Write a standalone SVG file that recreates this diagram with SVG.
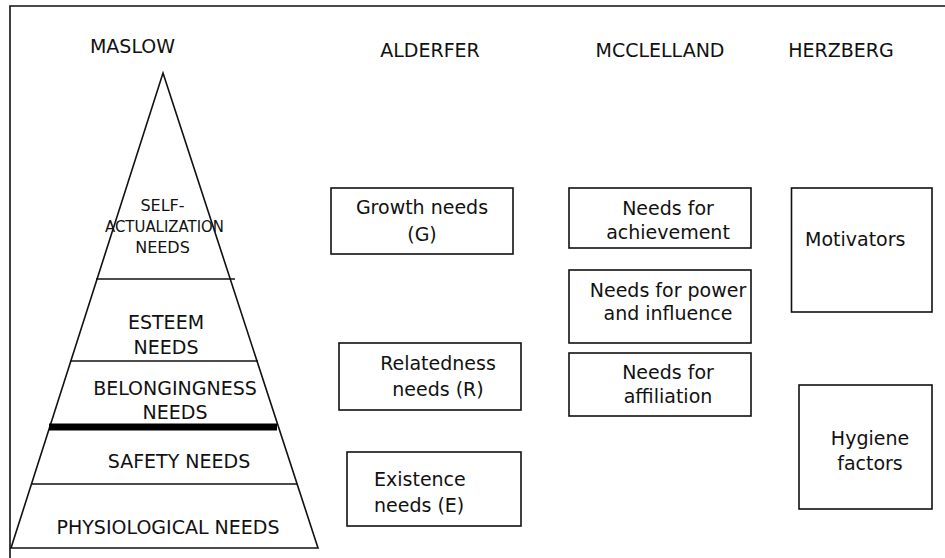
<svg xmlns="http://www.w3.org/2000/svg" width="945" height="558" viewBox="0 0 945 558">
<style>
text{font-family:"DejaVu Sans","Liberation Sans",sans-serif;font-size:19px;fill:#111;}
.c{text-anchor:middle;}
.box{fill:#fff;stroke:#111;stroke-width:1.6;}
.ln{stroke:#111;stroke-width:1.6;fill:none;}
</style>
<rect width="945" height="558" fill="#fff"/>
<g id="frame">
<path class="ln" d="M10,558 V6 H945"/>
</g>
<g id="headers">
<text class="c" x="132.5" y="53">MASLOW</text>
<text class="c" x="430" y="57">ALDERFER</text>
<text class="c" x="660" y="57">MCCLELLAND</text>
<text class="c" x="841" y="57">HERZBERG</text>
</g>
<g id="pyramid">
<polygon class="ln" points="163,73 318,548 11,548"/>
<line class="ln" x1="96" y1="279" x2="235" y2="279"/>
<line class="ln" x1="70" y1="361" x2="258" y2="361"/>
<line x1="49" y1="427" x2="277" y2="427" stroke="#000" stroke-width="7"/>
<line class="ln" x1="32" y1="484" x2="297" y2="484"/>
<text class="c" x="162.5" y="211" style="font-size:16px">SELF-</text>
<text class="c" x="164.5" y="232" style="font-size:15px" textLength="119" lengthAdjust="spacingAndGlyphs">ACTUALIZATION</text>
<text class="c" x="162.5" y="253" style="font-size:16px">NEEDS</text>
<text class="c" x="166" y="329">ESTEEM</text>
<text class="c" x="166" y="354">NEEDS</text>
<text class="c" x="175" y="395">BELONGINGNESS</text>
<text class="c" x="175" y="419">NEEDS</text>
<text class="c" x="179" y="468">SAFETY NEEDS</text>
<text class="c" x="168" y="534">PHYSIOLOGICAL NEEDS</text>
</g>
<g id="growth">
<rect class="box" x="331" y="188" width="182" height="66"/>
<text class="c" x="422" y="214">Growth needs</text>
<text class="c" x="422" y="241">(G)</text>
</g>
<g id="relatedness">
<rect class="box" x="339" y="343" width="182" height="67"/>
<text class="c" x="438" y="370">Relatedness</text>
<text class="c" x="438" y="396">needs (R)</text>
</g>
<g id="existence">
<rect class="box" x="347" y="452" width="174" height="74"/>
<text x="374" y="486">Existence</text>
<text x="374" y="512">needs (E)</text>
</g>
<g id="achievement">
<rect class="box" x="569" y="188" width="182" height="60"/>
<text class="c" x="668" y="215">Needs for</text>
<text class="c" x="668" y="239">achievement</text>
</g>
<g id="power">
<rect class="box" x="569" y="270" width="182" height="73"/>
<text class="c" x="668" y="297">Needs for power</text>
<text class="c" x="668" y="320">and influence</text>
</g>
<g id="affiliation">
<rect class="box" x="569" y="353" width="182" height="63"/>
<text class="c" x="668" y="379">Needs for</text>
<text class="c" x="668" y="403">affiliation</text>
</g>
<g id="motivators">
<rect class="box" x="791.5" y="188" width="140.5" height="124"/>
<text x="805" y="246">Motivators</text>
</g>
<g id="hygiene">
<rect class="box" x="799" y="385" width="133" height="124"/>
<text class="c" x="870" y="445">Hygiene</text>
<text class="c" x="870" y="470">factors</text>
</g>
<g id="connectors"></g>
</svg>
